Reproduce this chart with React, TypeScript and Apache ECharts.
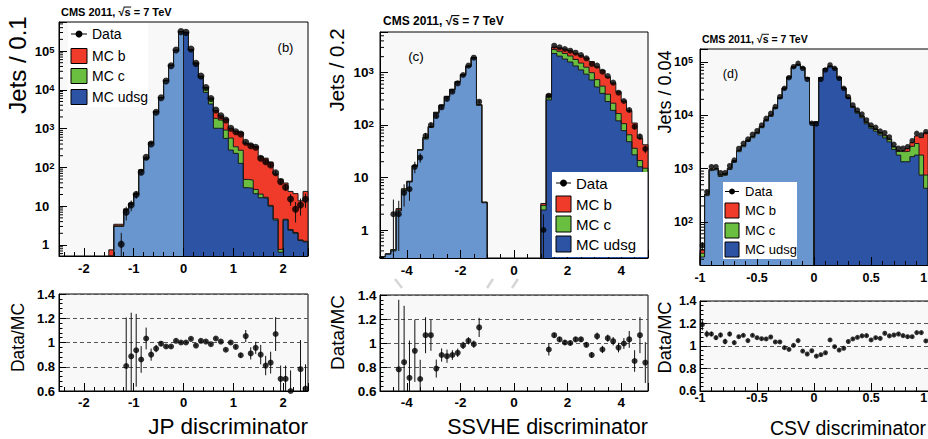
import React, { useEffect, useRef } from "react";
import * as echarts from "echarts";

const N = null;
const FONT = '"Liberation Sans", Arial, Helvetica, sans-serif';
const COL_LIGHT = "#6a96cf";
const COL_DARK = "#2c53a4";
const COL_GREEN = "#6abf40";
const COL_RED = "#f03b2b";
const COL_EDGE = "#1a1a1a";
const FRAME_BG = "#f8f8f8";

// ---------------- Panel (b): JP discriminator, bins of 0.1 from -2.5 ----------------
const B_EDGE0 = -2.5;
const B_BINW = 0.1;
const B_MC_UDSG = [0,0,0,0,0,0,0,0,0,0, 0.35,3.0,3.0,7.9,11.2,20,81,165,420,2680, 6200,17200,42700,103500,314000,300000,107000,46500,20300,8600, 4300,1020,1020,560,280,230,127,30,29,21, 16.5,16,10,4.4,0.65,4.4,2.4,2.0,1.3,1.2];
const B_MC_C = [0,0,0,0,0,0,0,0,0,0, 0.1,0.12,0.12,0.3,0.4,0.6,3,6,12,45, 80,180,300,700,1500,2500,2500,2300,1800,2500, 1500,820,640,360,290,110,150,19,18,6, 4,1,0.5,0.3,0.12,0.2,0.1,0.1,0.05,0.05];
const B_MC_B = [0,0,0,0,0,0,0,0,0,0, 0.3,0.3,0.3,0.4,0.4,0.7,3,5,12,45, 50,120,200,300,500,500,500,400,300,300, 280,1080,470,850,450,520,530,371,351,318, 170,156,127,63,49,35,21.5,19,12.4,22.8];
const B_DATA = [N,N,N,N,N,N,N,N,N,N, N,N,1.05,7,10.7,20,75,182,400,2630, 6270,16900,41800,106000,316000,303000,113000,48000,22700,11500, 6000,3020,2150,1660,1020,830,725,444,362,330, 172,140,115,73,43,30.7,15.3,8.3,10.7,15.1];
const B_DATA_ERR = [N,N,N,N,N,N,N,N,N,N, N,N,1.0,2.7,3.3,4.5,8.7,13.5,20,N, N,N,N,N,N,N,N,N,N,N, N,N,N,N,N,29,27,21,19,18, 13,12,10.7,8.5,6.6,5.5,5,4.5,5,6];
const B_RATIO = [N,N,N,N,N,N,N,N,N,N, N,N,N,0.806,0.886,0.936,0.86,1.033,0.90,0.95, 0.99,0.967,0.967,1.014,1.0,1.0,1.03,0.975,1.014,1.008, 0.986,1.033,1.008,0.94,1.0,0.964,0.895,1.053,0.91,0.956, 0.90,0.81,0.834,1.07,0.70,0.70,0.60,N,0.78,0.62];
const B_RATIO_ERR = [N,N,N,N,N,N,N,N,N,N, N,N,N,0.40,0.36,0.30,0.11,0.09,0.05,0.03, 0.02,0.01,0.01,0.01,0.01,0.01,0.01,0.01,0.01,0.01, 0.01,0.01,0.01,0.01,0.01,0.015,0.02,0.05,0.05,0.05, 0.08,0.08,0.09,0.14,0.11,0.11,0.17,N,0.24,0.2];

// ---------------- Panel (c): SSVHE discriminator, bins of 0.2 from -5 ----------------
const C_EDGE0 = -5;
const C_BINW = 0.2;
const C_MC_UDSG = [0.31,0.35,0.4,2.3,5.6,8.2,16.3,33,54,90, 166,232,340,462,652,885,1290,1880,236,3.3, 0,0,0,0,0,0,0,0,0,0, 2.4,300,2300,2050,1800,1580,1330,1120,930,720, 530,400,280,190,120,78,48,27,16,12];
const C_MC_C = [0,0,0.02,0.1,0.4,0.2,0.5,0.7,3.5,3, 7,7,9,13,18,22,28,40,8,0.08, 0,0,0,0,0,0,0,0,0,0, 0.55,52,430,480,500,480,440,390,330,270, 200,150,105,70,45,28,17,9,5,3];
const C_MC_B = [0,0,0,0.16,0.1,0.1,0.2,0.3,0.5,1, 2,2,3,4,5,6,8,10,2,0.02, 0,0,0,0,0,0,0,0,0,0, 0.25,30,310,400,490,540,540,580,630,620, 550,545,439,370,263,181,122,73,35,27];
const C_DATA = [N,N,2,2,5.1,6.0,16,24,62,100, 148,217,313,431,620,895,1350,1910,278,N, N,N,N,N,N,N,N,N,N,N, 1.0,361,3240,3020,2800,2600,2380,2150,1860,1450, 1350,1036,857,640,412,286,193,93,60,35];
const C_DATA_ERR = [N,N,1.8,1.6,2.3,2.4,4,4.9,7.9,10, 12,15,18,21,25,30,37,44,17,N, N,N,N,N,N,N,N,N,N,N, 1.0,19,N,N,N,N,N,N,N,N, N,N,N,N,N,N,14,10,8,6];
const C_RATIO = [N,N,N,0.78,0.84,0.71,0.935,0.70,1.065,1.065, 0.787,0.90,0.89,0.90,0.918,0.98,1.018,0.99,1.13,N, N,N,N,N,N,N,N,N,N,N, N,0.946,1.065,1.03,1.004,1.0,1.03,1.03,0.985,0.90, 1.057,0.946,1.04,1.015,0.962,0.996,1.03,0.85,1.065,0.837];
const C_RATIO_ERR = [N,N,N,0.58,0.47,0.31,0.26,0.16,0.15,0.13, 0.075,0.055,0.055,0.04,0.035,0.03,0.03,0.03,0.08,N, N,N,N,N,N,N,N,N,N,N, N,0.05,0.02,0.02,0.02,0.02,0.02,0.02,0.02,0.025, 0.03,0.03,0.03,0.035,0.04,0.045,0.07,0.09,0.15,0.17];

// ---------------- Panel (d): CSV discriminator, bins of 0.04 from -1 ----------------
const D_EDGE0 = -1;
const D_BINW = 0.04;
const D_MC_UDSG = [22,312,920,950,715,755,965,1325,2085,2580, 3235,3805,4540,5870,7850,9580,13400,20600,31200,50300, 78200,87200,77100,49300,7150,7480,50900,74800,82900,76000, 50800,32100,20800,14100,11000,9050,6950,5730,5060,4300, 3780,3180,2300,1800,1350,1350,1680,1800,760,430];
const D_MC_C = [4,17,50,50,40,42,50,68,105,130, 160,185,215,270,360,430,590,880,1300,2000, 2900,3000,2600,1600,220,80,460,700,750,800, 620,640,630,580,580,580,450,440,390,350, 350,320,250,300,740,780,950,1170,1040,330];
const D_MC_B = [4,5,15,15,11,12,15,20,26,30, 40,46,49,57,68,80,100,140,190,280, 400,450,400,230,40,20,100,140,130,160, 140,120,110,90,120,95,110,90,110,120, 130,115,64,86,126,260,463,1150,2034,3967];
const D_DATA = [36,370,1090,1090,841,841,1140,1455,2400,3000, 3600,4420,5160,6600,8800,10900,14600,22400,32200,51000, 82000,95000,76500,47500,7100,6900,47500,71100,88300,76500, 49700,32200,22400,15700,12600,10600,8200,6600,5970,5090, 4740,3940,2870,2420,2420,2590,3350,4610,4290,4940];
const D_DATA_ERR = [6,19,N,N,N,N,N,N,N,N, N,N,N,N,N,N,N,N,N,N, N,N,N,N,N,N,N,N,N,N, N,N,N,N,N,N,N,N,N,N, N,N,N,N,N,N,N,N,N,N];
const D_RATIO = [1.19,1.107,1.107,1.074,1.098,1.04,1.107,1.03,1.083,1.095, 1.048,1.095,1.074,1.065,1.063,1.08,1.036,1.036,0.985,0.97, 1.006,1.048,0.955,0.929,0.958,0.91,0.923,0.94,1.054,0.994, 0.964,0.98,1.04,1.063,1.077,1.09,1.092,1.054,1.074,1.068, 1.113,1.09,1.098,1.107,1.092,1.083,1.083,1.119,1.119,1.045];
const D_RATIO_ERR = [0.05,0.03,0.02,0.02,0.02,0.025,0.02,0.015,0.012,0.012, 0.01,0.01,0.01,0.01,0.01,0.01,0.01,0.01,0.01,0.01, 0.01,0.01,0.01,0.01,0.01,0.01,0.01,0.01,0.01,0.01, 0.01,0.01,0.01,0.01,0.01,0.01,0.01,0.01,0.01,0.01, 0.01,0.01,0.01,0.01,0.01,0.01,0.01,0.01,0.01,0.012];

type Box = { left: number; top: number; width: number; height: number };

const PANELS: any[] = [
  {
    edge0: B_EDGE0, binW: B_BINW, udsg: B_MC_UDSG, c: B_MC_C, b: B_MC_B,
    data: B_DATA, dataErr: B_DATA_ERR, ratio: B_RATIO, ratioErr: B_RATIO_ERR,
    xMin: -2.5, xMax: 2.5, xStep: 1, xMinor: 5, yMin: 0.52, yMax: 5.6e5, edgeLabel: null,
    top: { left: 59, top: 22, width: 249, height: 234 },
    bot: { left: 59, top: 294, width: 249, height: 97 },
    font: 13, topXMargin: 5.5, botXMargin: 4.5, topYMargin: 4.5, botYMargin: 4, dot: 7, rdot: 6,
  },
  {
    edge0: C_EDGE0, binW: C_BINW, udsg: C_MC_UDSG, c: C_MC_C, b: C_MC_B,
    data: C_DATA, dataErr: C_DATA_ERR, ratio: C_RATIO, ratioErr: C_RATIO_ERR,
    xMin: -5, xMax: 5, xStep: 2, xMinor: 4, yMin: 0.293, yMax: 5900, edgeLabel: null,
    top: { left: 380, top: 32, width: 268, height: 226 },
    bot: { left: 380, top: 295, width: 268, height: 96 },
    font: 13.5, topXMargin: 5, botXMargin: 4.5, topYMargin: 6, botYMargin: 3.5, dot: 6, rdot: 6,
  },
  {
    edge0: D_EDGE0, binW: D_BINW, udsg: D_MC_UDSG, c: D_MC_C, b: D_MC_B,
    data: D_DATA, dataErr: D_DATA_ERR, ratio: D_RATIO, ratioErr: D_RATIO_ERR,
    xMin: -1, xMax: 1.06, xStep: 0.5, xMinor: 5, yMin: 15.6, yMax: 1.76e5, edgeLabel: 1,
    top: { left: 700, top: 49, width: 235, height: 216 },
    bot: { left: 700, top: 301, width: 235, height: 90 },
    font: 12.5, topXMargin: 6, botXMargin: 0.5, topYMargin: 7, botYMargin: 3.5, dot: 5.5, rdot: 5,
  },
];

function findRuns(p: any, tot: number[]) {
  const res: any[] = [];
  let cur: any = null;
  for (let i = 0; i < tot.length; i++) {
    const center = p.edge0 + (i + 0.5) * p.binW;
    const side = center < 0 ? 0 : 1;
    if (!(tot[i] > 0)) { cur = null; continue; }
    if (!cur || cur.side !== side) { cur = { side, from: i, to: i }; res.push(cur); }
    else cur.to = i;
  }
  return res;
}

function stepPts(p: any, vals: number[], from: number, to: number) {
  const e = (i: number) => p.edge0 + i * p.binW;
  const pts: number[][] = [[e(from), p.yMin]];
  for (let i = from; i <= to; i++) pts.push([e(i), Math.max(vals[i], p.yMin)]);
  pts.push([e(to + 1), Math.max(vals[to], p.yMin)]);
  pts.push([e(to + 1), p.yMin]);
  return pts;
}

function measure(s: string, font: string): number {
  const cv = document.createElement("canvas");
  const ctx = cv.getContext("2d");
  if (!ctx) return s.length * 6;
  ctx.font = font;
  return ctx.measureText(s).width;
}

function txt(text: string, x: number, y: number, size: number, opts: any = {}) {
  const align = opts.align || "left";
  return {
    type: "text", x, y, rotation: opts.rot || 0, z: 100, silent: true,
    style: {
      text, fontSize: size, fontFamily: FONT, fontWeight: opts.bold ? "bold" : "normal",
      fill: "#000", align, verticalAlign: "middle", textAlign: align, textVerticalAlign: "middle",
    },
  };
}

function cms(x: number, y: number, size: number) {
  const font = `bold ${size}px ${FONT}`;
  const w0 = measure("CMS 2011, \u221A", font);
  const ws = measure("s", font);
  return [
    txt("CMS 2011, \u221As = 7 TeV", x, y, size, { bold: true }),
    {
      type: "line", z: 100, silent: true,
      shape: { x1: x + w0 - size * 0.08, y1: y - size * 0.45, x2: x + w0 + ws + 0.5, y2: y - size * 0.45 },
      style: { stroke: "#000", lineWidth: Math.max(0.9, size * 0.09) },
    },
  ];
}

function legend(L: any) {
  const els: any[] = [];
  els.push({ type: "rect", z: 90, silent: true, shape: { x: L.x, y: L.y, width: L.w, height: L.h }, style: { fill: "#fff" } });
  els.push({ type: "line", z: 95, silent: true, shape: { x1: L.sx, y1: L.rows[0], x2: L.sx + L.sw, y2: L.rows[0] }, style: { stroke: "#000", lineWidth: 1 } });
  els.push({ type: "circle", z: 96, silent: true, shape: { cx: L.sx + L.sw / 2, cy: L.rows[0], r: L.dot }, style: { fill: "#000" } });
  els.push(txt("Data", L.tx, L.rows[0], L.font));
  const cols = [COL_RED, COL_GREEN, COL_DARK];
  const names = ["MC b", "MC c", "MC udsg"];
  for (let i = 0; i < 3; i++) {
    const cy = L.rows[i + 1];
    els.push({ type: "rect", z: 95, silent: true, shape: { x: L.sx, y: cy - L.sh / 2, width: L.sw, height: L.sh }, style: { fill: cols[i], stroke: "#000", lineWidth: 1 } });
    els.push(txt(names[i], L.tx, cy, L.font));
  }
  return els;
}

function errSeries(xi: number, yi: number, items: number[][], lw: number) {
  return {
    type: "custom", xAxisIndex: xi, yAxisIndex: yi, data: items, silent: true, z: 4, clip: true,
    renderItem: (params: any, api: any) => {
      const x = api.value(0), lo = api.value(1), hi = api.value(2);
      const a = api.coord([x, lo]);
      const b = api.coord([x, hi]);
      return { type: "line", shape: { x1: a[0], y1: a[1], x2: b[0], y2: b[1] }, style: { stroke: "#111", lineWidth: lw } };
    },
  };
}

function buildOption() {
  const grid: any[] = [], xAxis: any[] = [], yAxis: any[] = [], series: any[] = [];
  PANELS.forEach((p: any, k: number) => {
    const it = 2 * k, ib = 2 * k + 1;
    for (const g of [p.top, p.bot] as Box[]) {
      grid.push({ ...g, show: true, backgroundColor: FRAME_BG, borderColor: "#000", borderWidth: 1, containLabel: false, outerBoundsMode: "none" });
    }
    const xLab = (v: number) => {
      const q = v / p.xStep;
      const r = Math.round(q);
      if (Math.abs(q - r) >= 1e-6) return "";
      const val = +(r * p.xStep).toFixed(2);
      if (p.edgeLabel != null && Math.abs(val - p.edgeLabel) < 1e-6) return "{e|" + val + "}";
      return String(val);
    };
    const mkX = (gi: number, margin: number) => ({
      type: "value", gridIndex: gi, min: p.xMin, max: p.xMax, minInterval: p.xStep, maxInterval: p.xStep, splitNumber: 5, z: 10,
      axisLine: { show: true, onZero: false, lineStyle: { color: "#000", width: 1 } },
      axisTick: { show: true, inside: true, length: 8, lineStyle: { color: "#000", width: 1 } },
      minorTick: { show: true, splitNumber: p.xMinor, length: 4, lineStyle: { color: "#000", width: 1 } },
      splitLine: { show: false }, minorSplitLine: { show: false },
      axisLabel: {
        show: true, margin, fontSize: p.font, fontWeight: "bold", fontFamily: FONT, color: "#000", formatter: xLab, hideOverlap: false,
        rich: { e: { fontSize: p.font, fontWeight: "bold", fontFamily: FONT, color: "#000", padding: [0, 9, 0, 0] } },
      },
    });
    xAxis.push(mkX(it, p.topXMargin));
    xAxis.push(mkX(ib, p.botXMargin));

    const F = p.font;
    const sF = Math.round(F * 0.72 * 10) / 10;
    const logLab = (v: number) => {
      const l = Math.log10(v);
      const r = Math.round(l);
      if (Math.abs(l - r) > 1e-4) return "";
      if (r === 0) return "{b|1}{ph| }";
      if (r === 1) return "{b|10}{ph| }";
      return "{b|10}{s|" + r + "}";
    };
    yAxis.push({
      type: "log", logBase: 10, gridIndex: it, min: p.yMin, max: p.yMax, z: 10,
      axisLine: { show: true, onZero: false, lineStyle: { color: "#000", width: 1 } },
      axisTick: { show: true, inside: true, length: 8, lineStyle: { color: "#000", width: 1 } },
      minorTick: { show: false }, splitLine: { show: false },
      axisLabel: {
        show: true, margin: p.topYMargin, formatter: logLab, hideOverlap: false,
        rich: {
          b: { fontSize: F, fontWeight: "bold", fontFamily: FONT, color: "#000", lineHeight: F },
          s: { fontSize: sF, fontWeight: "bold", fontFamily: FONT, color: "#000", lineHeight: sF, verticalAlign: "top", padding: [0, 0, F * 0.95, 0] },
          ph: { width: sF * 0.56, fontSize: sF, lineHeight: F },
        },
      },
    });
    yAxis.push({
      type: "value", gridIndex: ib, min: 0.6, max: 1.4, interval: 0.2,
      axisLine: { show: true, onZero: false, lineStyle: { color: "#000", width: 1 } },
      axisTick: { show: true, inside: true, length: 7, lineStyle: { color: "#000", width: 1 } },
      minorTick: { show: true, splitNumber: 5, length: 3.5, lineStyle: { color: "#000", width: 1 } },
      splitLine: { show: true, lineStyle: { color: "#555", type: [4, 3], width: 1 } },
      axisLabel: {
        show: true, margin: p.botYMargin, fontSize: F, fontWeight: "bold", fontFamily: FONT, color: "#000",
        formatter: (v: number) => String(Math.round(v * 10) / 10), hideOverlap: false,
      },
    });

    // stacked histograms as filled step outlines (total, udsg+c, udsg)
    const uc = p.udsg.map((u: number, i: number) => u + p.c[i]);
    const tot = uc.map((v: number, i: number) => v + p.b[i]);
    const runs = findRuns(p, tot);
    const layers = [
      { vals: tot, col: (_s: number) => COL_RED },
      { vals: uc, col: (_s: number) => COL_GREEN },
      { vals: p.udsg, col: (s: number) => (s ? COL_DARK : COL_LIGHT) },
    ];
    for (const L of layers) {
      for (const r of runs) {
        series.push({
          type: "line", xAxisIndex: it, yAxisIndex: it, data: stepPts(p, L.vals, r.from, r.to),
          step: "end", symbol: "none", showSymbol: false, silent: true, z: 2, clip: true,
          lineStyle: { color: COL_EDGE, width: 1 },
          areaStyle: { color: L.col(r.side), opacity: 1, origin: "start" },
          emphasis: { disabled: true },
        });
      }
    }

    // log-axis minor ticks (2..9 x 10^n)
    const minors: number[][] = [];
    for (let e = Math.floor(Math.log10(p.yMin)); e <= Math.ceil(Math.log10(p.yMax)); e++) {
      for (let m = 2; m <= 9; m++) {
        const v = m * Math.pow(10, e);
        if (v > p.yMin && v < p.yMax) minors.push([p.xMin, v]);
      }
    }
    series.push({
      type: "custom", xAxisIndex: it, yAxisIndex: it, data: minors, silent: true, z: 10, clip: false,
      renderItem: (params: any, api: any) => {
        const pt = api.coord([api.value(0), api.value(1)]);
        return { type: "line", shape: { x1: pt[0], y1: pt[1], x2: pt[0] + 4, y2: pt[1] }, style: { stroke: "#000", lineWidth: 1 } };
      },
    });

    // data points + error bars
    const pts: number[][] = [];
    const errs: number[][] = [];
    const rpts: number[][] = [];
    const rerrs: number[][] = [];
    for (let i = 0; i < p.data.length; i++) {
      const x = p.edge0 + (i + 0.5) * p.binW;
      const v = p.data[i];
      if (v != null) {
        pts.push([x, v]);
        const e = p.dataErr[i];
        if (e != null) errs.push([x, Math.max(v - e, p.yMin), Math.min(v + e, p.yMax)]);
      }
      const r = p.ratio[i];
      if (r != null) {
        rpts.push([x, r]);
        const e = p.ratioErr[i];
        if (e != null) rerrs.push([x, Math.max(r - e, 0.6), Math.min(r + e, 1.4)]);
      }
    }
    series.push(errSeries(it, it, errs, 1));
    series.push({ type: "scatter", xAxisIndex: it, yAxisIndex: it, data: pts, symbol: "circle", symbolSize: p.dot, itemStyle: { color: "#000" }, silent: true, z: 5, clip: true });
    series.push(errSeries(ib, ib, rerrs, 1));
    series.push({ type: "scatter", xAxisIndex: ib, yAxisIndex: ib, data: rpts, symbol: "circle", symbolSize: p.rdot, itemStyle: { color: "#000" }, silent: true, z: 5, clip: true });
  });

  const R = Math.PI / 2;
  const G: any[] = [];
  // (b)
  G.push(...cms(61, 12, 11));
  G.push(txt("(b)", 285.5, 47.5, 13, { align: "center" }));
  G.push(txt("Jets / 0.1", 17, 65, 24, { align: "center", rot: R }));
  G.push(txt("Data/MC", 17.5, 337.5, 17.5, { align: "center", rot: R }));
  G.push(txt("JP discriminator", 308, 426.5, 22.5, { align: "right" }));
  G.push(...legend({ x: 68, y: 23, w: 80, h: 84, sx: 71, sw: 16, sh: 15, tx: 92, rows: [34, 56, 76, 97], font: 14, dot: 3.5 }));
  // (c)
  G.push(...cms(383, 21, 12));
  G.push(txt("(c)", 416, 56, 13.5, { align: "center" }));
  G.push(txt("Jets / 0.2", 336, 70, 20.5, { align: "center", rot: R }));
  G.push(txt("Data/MC", 337.5, 332.5, 19, { align: "center", rot: R }));
  G.push(txt("SSVHE discriminator", 648, 427, 21.5, { align: "right" }));
  G.push(...legend({ x: 552, y: 172, w: 95.5, h: 85, sx: 556, sw: 15, sh: 16, tx: 576, rows: [183, 204, 224, 244], font: 15, dot: 3.5 }));
  // (d)
  G.push(...cms(702, 39, 10.5));
  G.push(txt("(d)", 730.5, 74, 12.5, { align: "center" }));
  G.push(txt("Jets / 0.04", 665, 92, 18, { align: "center", rot: R }));
  G.push(txt("Data/MC", 664.5, 337.5, 18.3, { align: "center", rot: R }));
  G.push(txt("CSV discriminator", 926, 428, 19.5, { align: "right" }));
  G.push(...legend({ x: 723, y: 182, w: 74, h: 77, sx: 725, sw: 14, sh: 15, tx: 745, rows: [191.5, 210.5, 230.5, 249.5], font: 13, dot: 3 }));
  // faint gray slashes between panels
  const slash = (x1: number, y1: number, x2: number, y2: number) => ({ type: "line", z: 100, silent: true, shape: { x1, y1, x2, y2 }, style: { stroke: "#d6d6d6", lineWidth: 2.5 } });
  G.push(slash(395, 279, 402, 288));
  G.push(slash(493, 279, 487, 288));
  G.push(slash(518, 279, 512, 288));

  return {
    animation: false,
    backgroundColor: "#fff",
    textStyle: { fontFamily: FONT },
    grid, xAxis, yAxis, series,
    graphic: { elements: G },
  };
}

export default function App() {
  const ref = useRef<HTMLDivElement>(null);
  useEffect(() => {
    if (!ref.current) return;
    const chart = echarts.init(ref.current, null, { renderer: "svg" });
    chart.setOption(buildOption() as any);
    return () => chart.dispose();
  }, []);
  return (
    <div style={{ position: "absolute", left: 0, top: 0, width: 928, height: 439, overflow: "hidden", background: "#fff" }}>
      <div ref={ref} style={{ width: 960, height: 439 }} />
    </div>
  );
}
